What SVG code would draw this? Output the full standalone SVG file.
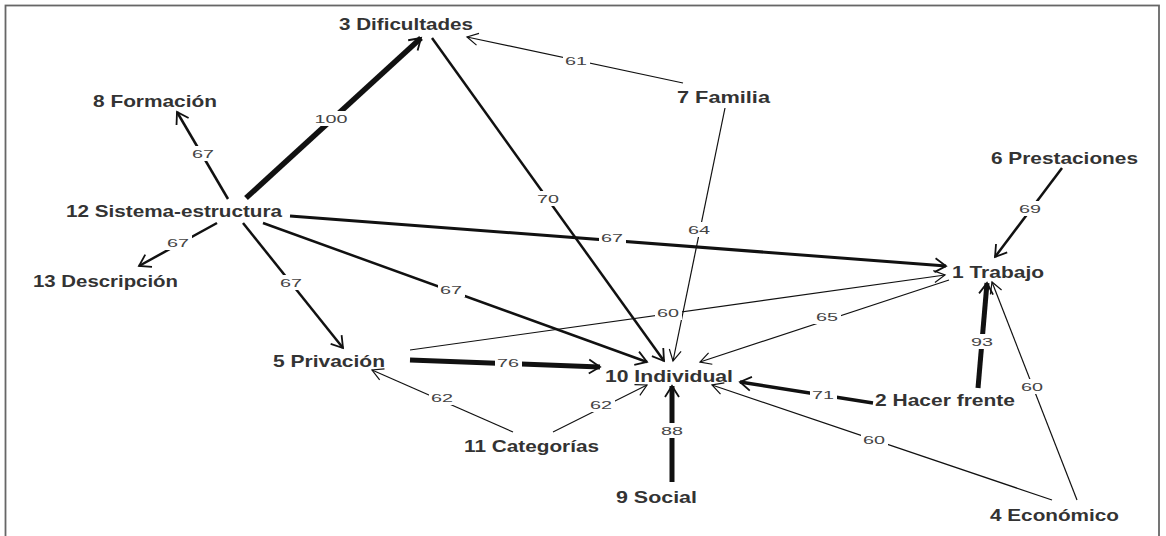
<svg xmlns="http://www.w3.org/2000/svg" width="1166" height="536" viewBox="0 0 1166 536">
<style>
.node text{font-family:"Liberation Sans",Arial,sans-serif;font-weight:bold;font-size:17px;fill:#333;lengthAdjust:spacingAndGlyphs}
.e{stroke:#111;fill:none;stroke-linecap:butt}
.t1{stroke-width:1.2;marker-end:url(#a1)}
.t2{stroke-width:2.5;marker-end:url(#a2)}
.t3{stroke-width:3.5;marker-end:url(#a2)}
.t5{stroke-width:5;marker-end:url(#a2)}
.lb rect{fill:#fff}
.lb text{font-family:"Liberation Sans",Arial,sans-serif;font-size:11px;fill:#444;text-anchor:middle}
</style>
<defs>
<marker id="a1" markerUnits="userSpaceOnUse" markerWidth="30" markerHeight="30" refX="0" refY="0" orient="auto" overflow="visible">
<path d="M-11,-6 L0,0 L-11,6" fill="none" stroke="#111" stroke-width="1.2"/>
</marker>
<marker id="a2" markerUnits="userSpaceOnUse" markerWidth="30" markerHeight="30" refX="0" refY="0" orient="auto" overflow="visible">
<path d="M-11,-7 L0,0 L-11,7" fill="none" stroke="#111" stroke-width="1.8"/>
</marker>
</defs>
<rect width="1166" height="536" fill="#fff"/>
<rect x="5.5" y="5.5" width="1153.5" height="540" fill="none" stroke="#666" stroke-width="1.8"/>
<g id="connectors">
<line class="e t5" x1="246" y1="198" x2="421" y2="38" style="stroke-width:5.5"/>
<line class="e t2" x1="228" y1="199" x2="177" y2="112"/>
<line class="e t2" x1="217" y1="223" x2="139" y2="266"/>
<line class="e t2" x1="243" y1="223" x2="343" y2="348"/>
<line class="e t2" x1="263" y1="223" x2="647" y2="362"/>
<line class="e t2" x1="290" y1="216" x2="946" y2="266" style="stroke-width:3"/>
<line class="e t2" x1="432" y1="38" x2="664" y2="361"/>
<line class="e t1" x1="683" y1="83" x2="467" y2="37"/>
<line class="e t1" x1="725" y1="108" x2="673" y2="361"/>
<line class="e t2" x1="1062" y1="168" x2="995" y2="257"/>
<line class="e t1" x1="410" y1="350" x2="945" y2="275"/>
<line class="e t1" x1="949" y1="280" x2="700" y2="362"/>
<line class="e t5" x1="410" y1="360" x2="600" y2="367"/>
<line class="e t5" x1="978" y1="388" x2="987" y2="283"/>
<line class="e t3" x1="873" y1="403" x2="740" y2="382"/>
<line class="e t1" x1="1077" y1="500" x2="992" y2="282"/>
<line class="e t1" x1="1052" y1="500" x2="712" y2="385"/>
<line class="e t5" x1="672" y1="482" x2="672" y2="386"/>
<line class="e t1" x1="513" y1="432" x2="372" y2="370"/>
<line class="e t1" x1="553" y1="432" x2="647" y2="385"/>
</g>
<g class="lb">
<rect x="313" y="111" width="37" height="15"/><text x="331" y="123" textLength="33" lengthAdjust="spacingAndGlyphs">100</text>
<rect x="190" y="146" width="27" height="15"/><text x="203" y="158" textLength="22" lengthAdjust="spacingAndGlyphs">67</text>
<rect x="165" y="235" width="27" height="15"/><text x="178" y="247" textLength="22" lengthAdjust="spacingAndGlyphs">67</text>
<rect x="278" y="275" width="27" height="15"/><text x="291" y="287" textLength="22" lengthAdjust="spacingAndGlyphs">67</text>
<rect x="438" y="282" width="27" height="15"/><text x="451" y="294" textLength="22" lengthAdjust="spacingAndGlyphs">67</text>
<rect x="599" y="230" width="27" height="15"/><text x="612" y="242" textLength="22" lengthAdjust="spacingAndGlyphs">67</text>
<rect x="535" y="191" width="27" height="15"/><text x="548" y="203" textLength="22" lengthAdjust="spacingAndGlyphs">70</text>
<rect x="563" y="53" width="27" height="15"/><text x="576" y="65" textLength="22" lengthAdjust="spacingAndGlyphs">61</text>
<rect x="686" y="222" width="27" height="15"/><text x="699" y="234" textLength="22" lengthAdjust="spacingAndGlyphs">64</text>
<rect x="1017" y="201" width="27" height="15"/><text x="1030" y="213" textLength="22" lengthAdjust="spacingAndGlyphs">69</text>
<rect x="655" y="305" width="27" height="15"/><text x="668" y="317" textLength="22" lengthAdjust="spacingAndGlyphs">60</text>
<rect x="814" y="309" width="27" height="15"/><text x="827" y="321" textLength="22" lengthAdjust="spacingAndGlyphs">65</text>
<rect x="495" y="355" width="27" height="15"/><text x="508" y="367" textLength="22" lengthAdjust="spacingAndGlyphs">76</text>
<rect x="969" y="334" width="27" height="15"/><text x="982" y="346" textLength="22" lengthAdjust="spacingAndGlyphs">93</text>
<rect x="810" y="387" width="27" height="15"/><text x="823" y="399" textLength="22" lengthAdjust="spacingAndGlyphs">71</text>
<rect x="1019" y="379" width="27" height="15"/><text x="1032" y="391" textLength="22" lengthAdjust="spacingAndGlyphs">60</text>
<rect x="861" y="432" width="27" height="15"/><text x="874" y="444" textLength="22" lengthAdjust="spacingAndGlyphs">60</text>
<rect x="659" y="423" width="27" height="15"/><text x="672" y="435" textLength="22" lengthAdjust="spacingAndGlyphs">88</text>
<rect x="429" y="390" width="27" height="15"/><text x="442" y="402" textLength="22" lengthAdjust="spacingAndGlyphs">62</text>
<rect x="588" y="397" width="27" height="15"/><text x="601" y="409" textLength="22" lengthAdjust="spacingAndGlyphs">62</text>
</g>
<g id="n3" class="node"><text x="339" y="30" textLength="134" lengthAdjust="spacingAndGlyphs">3 Dificultades</text></g>
<g id="n8" class="node"><text x="93" y="107" textLength="124" lengthAdjust="spacingAndGlyphs">8 Formación</text></g>
<g id="n12" class="node"><text x="66" y="217" textLength="216" lengthAdjust="spacingAndGlyphs">12 Sistema-estructura</text></g>
<g id="n13" class="node"><text x="33" y="287" textLength="145" lengthAdjust="spacingAndGlyphs">13 Descripción</text></g>
<g id="n5" class="node"><text x="273" y="367" textLength="112" lengthAdjust="spacingAndGlyphs">5 Privación</text></g>
<g id="n11" class="node"><text x="464" y="452" textLength="135" lengthAdjust="spacingAndGlyphs">11 Categorías</text></g>
<g id="n7" class="node"><text x="677" y="103" textLength="93" lengthAdjust="spacingAndGlyphs">7 Familia</text></g>
<g id="n6" class="node"><text x="991" y="164" textLength="147" lengthAdjust="spacingAndGlyphs">6 Prestaciones</text></g>
<g id="n1" class="node"><text x="952" y="278" textLength="92" lengthAdjust="spacingAndGlyphs">1 Trabajo</text></g>
<g id="n10" class="node"><text x="605" y="382" textLength="128" lengthAdjust="spacingAndGlyphs">10 Individual</text></g>
<g id="n2" class="node"><text x="875" y="406" textLength="140" lengthAdjust="spacingAndGlyphs">2 Hacer frente</text></g>
<g id="n9" class="node"><text x="616" y="503" textLength="81" lengthAdjust="spacingAndGlyphs">9 Social</text></g>
<g id="n4" class="node"><text x="990" y="521" textLength="129" lengthAdjust="spacingAndGlyphs">4 Económico</text></g>
</svg>
